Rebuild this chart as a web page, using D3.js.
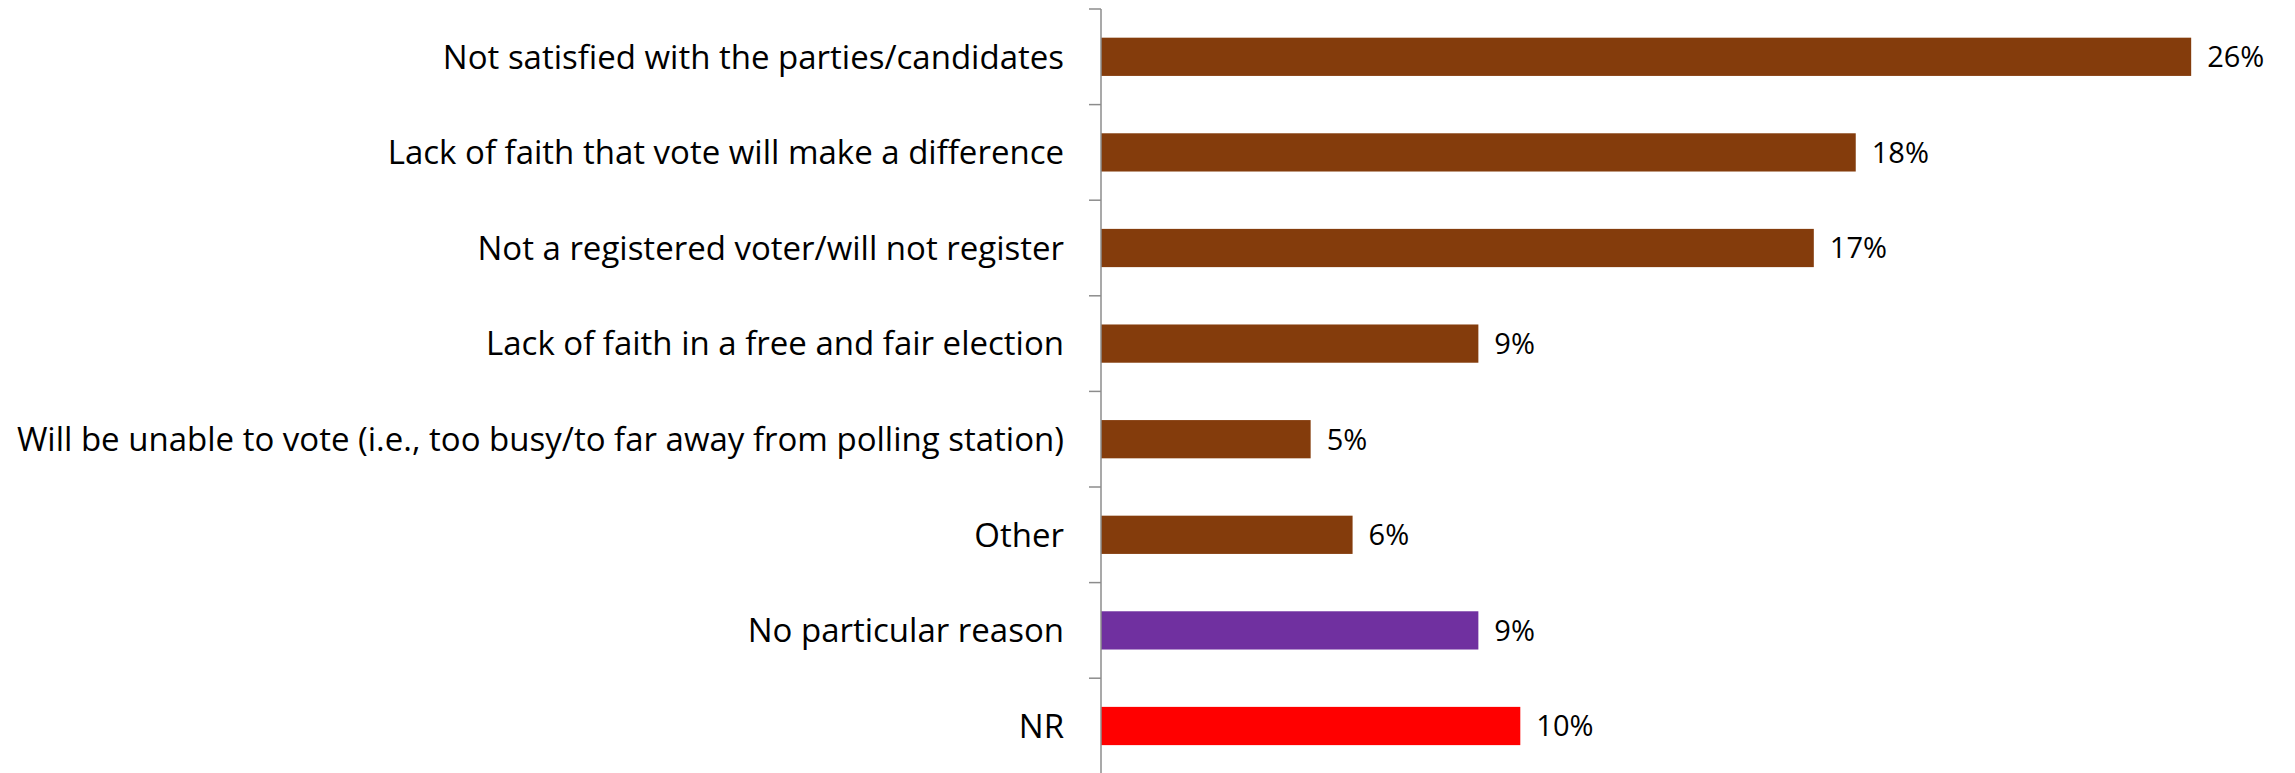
<!DOCTYPE html>
<html>
<head>
<meta charset="utf-8">
<script src="https://cdn.jsdelivr.net/npm/d3@7"></script>
<style>
    html, body { margin: 0; padding: 0; background: #ffffff; }
    text { font-family: "Open Sans", "Lato", sans-serif; fill: #000000; }
</style>
</head>
<body>
<div id="chart"></div>
<script>
var categories = [
    "Not satisfied with the parties/candidates",
    "Lack of faith that vote will make a difference",
    "Not a registered voter/will not register",
    "Lack of faith in a free and fair election",
    "Will be unable to vote (i.e., too busy/to far away from polling station)",
    "Other",
    "No particular reason",
    "NR"
];
var values = [26, 18, 17, 9, 5, 6, 9, 10];
var barColors = ["#843c0c", "#843c0c", "#843c0c", "#843c0c", "#843c0c", "#843c0c", "#7030a0", "#ff0000"];

var width = 2295;
var height = 773;
var axis_x = 1101;
var top_y = 9;
var step_h = 95.6;
var px_per_pct = 41.93;

var svg = d3.select("#chart").append("svg")
    .attr("width", width)
    .attr("height", height);

var x = d3.scaleLinear()
    .domain([0, 30])
    .range([axis_x, axis_x + 30 * px_per_pct]);

var y = d3.scaleBand()
    .domain(categories)
    .range([top_y, top_y + step_h * categories.length])
    .paddingInner(0.6)
    .paddingOuter(0.3);

// bars
svg.append("g").selectAll("rect")
    .data(values)
    .enter().append("rect")
    .attr("x", x(0))
    .attr("y", function (d, i) { return y(categories[i]); })
    .attr("width", function (d) { return x(d) - x(0); })
    .attr("height", y.bandwidth())
    .attr("fill", function (d, i) { return barColors[i]; });

// axis line + tick marks between categories
var axisGroup = svg.append("g");
axisGroup.append("line")
    .attr("x1", axis_x)
    .attr("x2", axis_x)
    .attr("y1", y.range()[0])
    .attr("y2", y.range()[1])
    .attr("stroke", "#8c8c8c")
    .attr("stroke-width", 1.5);
axisGroup.selectAll("line.tick")
    .data(d3.range(categories.length + 1))
    .enter().append("line")
    .attr("class", "tick")
    .attr("x1", axis_x - 12)
    .attr("x2", axis_x)
    .attr("y1", function (i) { return y.range()[0] + i * y.step(); })
    .attr("y2", function (i) { return y.range()[0] + i * y.step(); })
    .attr("stroke", "#8c8c8c")
    .attr("stroke-width", 1.5);

// category labels
svg.append("g").selectAll("text")
    .data(categories)
    .enter().append("text")
    .attr("x", axis_x - 37)
    .attr("y", function (d) { return y(d) + y.bandwidth() / 2; })
    .attr("dy", "0.36em")
    .attr("text-anchor", "end")
    .style("font-size", "33px")
    .text(function (d) { return d; });

// value labels
svg.append("g").selectAll("text")
    .data(values)
    .enter().append("text")
    .attr("x", function (d) { return x(d) + 16; })
    .attr("y", function (d, i) { return y(categories[i]) + y.bandwidth() / 2; })
    .attr("dy", "0.36em")
    .style("font-size", "29px")
    .text(function (d) { return d + "%"; });
</script>
</body>
</html>
